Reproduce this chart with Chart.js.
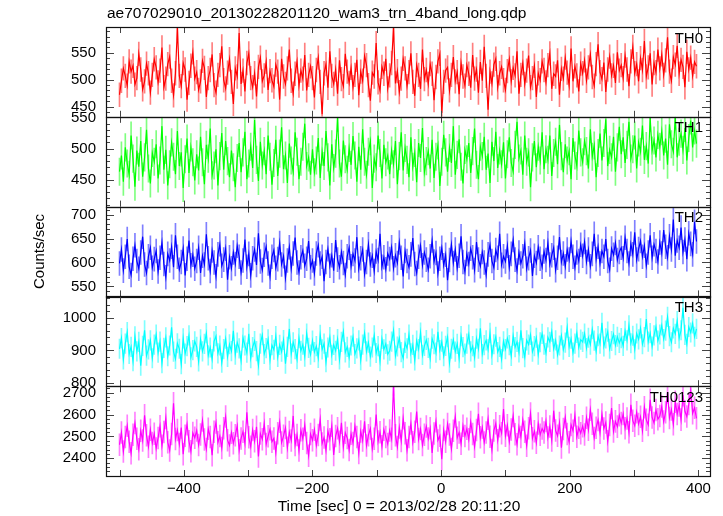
<!DOCTYPE html>
<html>
<head>
<meta charset="utf-8">
<script src="https://cdn.jsdelivr.net/npm/chart.js@4.4.1/dist/chart.umd.min.js"></script>
<style>
  body { margin: 0; background: #fff; }
</style>
</head>
<body>
<canvas id="myChart" width="723" height="516"></canvas>
<script>
// Time bins (sec from 2013/02/28 20:11:20)
const binStart = -500;
const binWidth = 3;

const th0 = [
  472, 498, 521, 507, 489, 534, 515, 526, 491, 503, 548, 519, 482, 497, 530, 512, 476, 509, 538, 523,
  495, 517, 560, 486, 502, 529, 543, 498, 471, 512, 596, 507, 488, 531, 519, 463, 494, 526, 551, 502,
  514, 481, 497, 535, 522, 468, 503, 518, 547, 490, 476, 509, 527, 562, 499, 484, 513, 538, 496, 455,
  521, 506, 587, 492, 517, 478, 531, 549, 503, 486, 512, 469, 524, 541, 497, 508, 533, 481, 516, 499,
  487, 528, 515, 463, 539, 506, 492, 521, 556, 498, 474, 511, 534, 489, 517, 502, 546, 480, 509, 525,
  503, 467, 518, 541, 496, 436, 512, 529, 485, 553, 507, 492, 519, 474, 536, 501, 488, 548, 515, 494,
  522, 486, 509, 537, 471, 515, 498, 544, 527, 490, 461, 513, 506, 568, 495, 480, 524, 511, 539, 484,
  508, 531, 597, 493, 516, 477, 502, 539, 521, 488, 514, 549, 496, 470, 527, 509, 483, 556, 501, 518,
  492, 529, 511, 462, 505, 534, 548, 438, 496, 517, 523, 480, 509, 542, 497, 514, 473, 531, 506, 489,
  527, 511, 485, 546, 502, 519, 476, 533, 498, 561, 507, 444, 515, 493, 528, 539, 486, 512, 524, 499,
  481, 516, 538, 497, 522, 508, 553, 474, 509, 531, 492, 517, 545, 486, 503, 526, 468, 512, 499, 534,
  518, 495, 527, 549, 483, 511, 506, 536, 472, 520, 502, 541, 513, 489, 558, 497, 525, 508, 478, 530,
  512, 536, 498, 523, 547, 505, 489, 529, 566, 514, 501, 532, 477, 519, 543, 508, 526, 494, 551, 517,
  527, 503, 545, 519, 488, 534, 561, 512, 529, 497, 540, 518, 572, 506, 523, 549, 491, 531, 514, 556,
  521, 547, 509, 536, 579, 515, 498, 542, 528, 563, 511, 537, 524, 486, 552, 519, 541, 507, 533, 525
];
const th1 = [
  463, 489, 447, 502, 476, 458, 521, 484, 439, 497, 471, 512, 455, 486, 530, 468, 444, 493, 479, 507,
  452, 481, 536, 466, 498, 441, 475, 510, 487, 459, 528, 472, 494, 437, 483, 516, 461, 502, 478, 449,
  491, 465, 519, 478, 443, 506, 484, 532, 457, 473, 499, 441, 488, 525, 466, 512, 480, 454, 497, 470,
  438, 485, 509, 462, 494, 527, 451, 476, 503, 469, 546, 482, 448, 511, 473, 496, 459, 521, 487, 442,
  477, 514, 456, 492, 534, 467, 489, 445, 508, 481, 463, 526, 495, 451, 479, 503, 540, 472, 486, 458,
  499, 462, 481, 517, 453, 495, 472, 528, 486, 441, 507, 469, 492, 549, 476, 455, 513, 483, 466, 501,
  474, 520, 489, 447, 503, 466, 531, 479, 458, 495, 512, 437, 484, 470, 521, 493, 452, 506, 478, 489,
  459, 497, 475, 512, 443, 488, 526, 465, 501, 482, 454, 518, 471, 493, 446, 509, 485, 533, 462, 480,
  496, 468, 514, 453, 487, 505, 440, 479, 522, 494, 463, 501, 477, 536, 458, 490, 515, 471, 444, 498,
  483, 509, 461, 496, 532, 474, 451, 503, 488, 519, 466, 492, 445, 511, 480, 527, 469, 497, 475, 510,
  452, 491, 518, 477, 463, 506, 543, 484, 497, 458, 521, 479, 494, 438, 486, 512, 470, 503, 481, 526,
  467, 499, 482, 521, 456, 493, 511, 475, 538, 488, 462, 507, 481, 496, 451, 517, 489, 472, 529, 494,
  478, 512, 496, 468, 531, 487, 505, 454, 493, 524, 481, 509, 547, 472, 498, 486, 519, 463, 502, 535,
  491, 518, 477, 506, 543, 484, 499, 521, 468, 510, 495, 537, 482, 504, 476, 549, 497, 513, 486, 522,
  503, 528, 489, 516, 474, 539, 507, 495, 552, 486, 511, 524, 498, 533, 481, 517, 545, 502, 529, 508
];
const th2 = [
  598, 627, 583, 612, 649, 591, 574, 608, 636, 603, 587, 621, 654, 596, 578, 613, 631, 589, 607, 624,
  581, 610, 642, 597, 569, 618, 604, 633, 590, 657, 612, 585, 601, 629, 573, 608, 646, 594, 616, 587,
  603, 631, 578, 614, 596, 659, 609, 582, 625, 600, 571, 617, 638, 593, 606, 629, 564, 611, 588, 621,
  597, 635, 612, 579, 604, 648, 591, 618, 573, 609, 627, 595, 661, 602, 584, 616, 633, 598, 570, 612,
  626, 589, 607, 641, 596, 613, 568, 604, 632, 587, 619, 652, 600, 579, 611, 625, 593, 608, 645, 590,
  604, 577, 619, 636, 598, 612, 561, 601, 628, 593, 615, 583, 647, 606, 590, 622, 599, 574, 613, 631,
  592, 618, 604, 653, 587, 609, 627, 575, 601, 638, 596, 614, 582, 623, 605, 660, 591, 611, 586, 619,
  607, 632, 588, 615, 599, 642, 610, 571, 624, 603, 590, 617, 651, 597, 578, 612, 635, 594, 621, 606,
  585, 613, 646, 602, 620, 577, 608, 631, 594, 616, 563, 605, 638, 599, 627, 588, 614, 655, 601, 580,
  618, 597, 629, 611, 584, 643, 606, 592, 622, 600, 574, 617, 637, 603, 589, 626, 610, 660, 595, 613,
  602, 635, 590, 618, 647, 606, 583, 621, 598, 613, 640, 587, 609, 625, 572, 614, 599, 632, 608, 591,
  623, 605, 641, 596, 615, 631, 584, 610, 653, 601, 619, 592, 627, 606, 645, 612, 589, 621, 603, 637,
  614, 643, 601, 627, 592, 618, 660, 607, 633, 598, 624, 612, 649, 603, 585, 629, 616, 641, 605, 622,
  631, 609, 652, 624, 598, 639, 617, 663, 606, 628, 645, 612, 635, 593, 621, 657, 610, 638, 624, 602,
  642, 619, 668, 633, 611, 655, 627, 690, 614, 646, 631, 673, 622, 648, 607, 661, 639, 617, 685, 644
];
const th3 = [
  905, 938, 872, 921, 956, 889, 911, 867, 943, 897, 926, 853, 914, 962, 884, 903, 931, 876, 918, 949,
  893, 927, 861, 908, 940, 882, 915, 971, 896, 874, 922, 905, 858, 937, 890, 913, 946, 879, 901, 928,
  911, 866, 934, 897, 920, 953, 885, 909, 873, 928, 944, 891, 915, 862, 904, 936, 880, 919, 898, 960,
  887, 924, 906, 868, 939, 915, 893, 951, 876, 910, 929, 898, 854, 921, 947, 889, 907, 934, 871, 916,
  902, 944, 880, 917, 896, 932, 859, 911, 966, 890, 925, 904, 873, 938, 899, 918, 881, 952, 908, 887,
  930, 895, 913, 877, 948, 903, 921, 864, 909, 941, 886, 917, 899, 935, 872, 926, 958, 894, 911, 878,
  915, 942, 889, 906, 931, 870, 918, 953, 897, 924, 881, 909, 946, 892, 913, 867, 935, 903, 920, 888,
  899, 927, 961, 884, 912, 938, 895, 876, 923, 906, 949, 891, 917, 869, 930, 904, 955, 886, 914, 932,
  908, 875, 936, 919, 893, 957, 901, 927, 882, 914, 941, 862, 905, 933, 896, 920, 876, 944, 910, 890,
  921, 949, 897, 913, 878, 936, 905, 968, 889, 916, 931, 903, 954, 886, 919, 942, 895, 911, 873, 928,
  904, 937, 916, 883, 945, 910, 926, 894, 962, 907, 879, 931, 918, 948, 896, 913, 939, 887, 925, 951,
  918, 892, 940, 926, 958, 905, 931, 887, 915, 946, 902, 924, 970, 911, 936, 893, 921, 954, 909, 933,
  926, 952, 907, 939, 918, 965, 930, 897, 944, 921, 985, 912, 937, 958, 905, 929, 950, 916, 942, 923,
  938, 914, 960, 931, 977, 922, 945, 903, 952, 934, 968, 919, 941, 996, 927, 953, 912, 946, 973, 930,
  949, 977, 935, 961, 1003, 944, 925, 968, 951, 990, 937, 962, 1031, 948, 920, 972, 955, 983, 942, 966
];
const th0123 = [
  2462, 2518, 2431, 2497, 2549, 2476, 2423, 2508, 2562, 2489, 2441, 2526, 2481, 2597, 2505, 2453, 2531, 2470, 2512, 2445,
  2493, 2547, 2458, 2520, 2585, 2474, 2436, 2511, 2652, 2488, 2529, 2465, 2541, 2419, 2503, 2556, 2478, 2432, 2516, 2494,
  2527, 2461, 2509, 2573, 2486, 2442, 2535, 2498, 2414, 2521, 2564, 2473, 2502, 2447, 2538, 2591, 2483, 2459, 2517, 2469,
  2505, 2549, 2437, 2491, 2522, 2468, 2611, 2496, 2453, 2530, 2478, 2544, 2408, 2513, 2487, 2559, 2465, 2501, 2533, 2476,
  2491, 2426, 2515, 2567, 2472, 2503, 2539, 2448, 2520, 2482, 2594, 2461, 2507, 2436, 2528, 2489, 2553, 2470, 2412, 2511,
  2483, 2531, 2459, 2507, 2578, 2468, 2495, 2436, 2524, 2487, 2549, 2415, 2502, 2537, 2476, 2563, 2451, 2517, 2493, 2438,
  2512, 2470, 2548, 2497, 2424, 2523, 2481, 2569, 2459, 2506, 2536, 2443, 2489, 2600, 2477, 2519, 2455, 2531, 2498, 2465,
  2527, 2489, 2738, 2506, 2452, 2541, 2479, 2583, 2515, 2437, 2498, 2559, 2473, 2522, 2614, 2488, 2534, 2461, 2508, 2546,
  2491, 2537, 2425, 2514, 2570, 2482, 2503, 2396, 2529, 2476, 2557, 2509, 2443, 2526, 2591, 2494, 2518, 2467, 2549, 2502,
  2535, 2487, 2566, 2511, 2453, 2529, 2604, 2496, 2541, 2472, 2518, 2581, 2499, 2438, 2527, 2560, 2483, 2547, 2515, 2625,
  2503, 2551, 2476, 2532, 2594, 2510, 2464, 2543, 2498, 2576, 2521, 2457, 2538, 2605, 2492, 2524, 2471, 2559, 2508, 2536,
  2518, 2571, 2495, 2546, 2482, 2618, 2527, 2503, 2562, 2449, 2534, 2588, 2511, 2474, 2553, 2526, 2597, 2499, 2540, 2515,
  2547, 2509, 2586, 2531, 2622, 2558, 2493, 2540, 2575, 2517, 2601, 2536, 2564, 2478, 2552, 2630, 2523, 2569, 2545, 2597,
  2561, 2603, 2538, 2582, 2519, 2645, 2572, 2549, 2611, 2557, 2590, 2526, 2634, 2576, 2553, 2668, 2587, 2562, 2621, 2579,
  2594, 2637, 2568, 2611, 2702, 2585, 2623, 2556, 2659, 2603, 2642, 2577, 2689, 2615, 2591, 2648, 2712, 2606, 2631, 2583
];

// 1-sigma errors per band
const th0Err = 22, th1Err = 22, th2Err = 25, th3Err = 30, th0123Err = 50;

// panels from top to bottom
const panels = [
  { name: "TH0",    values: th0,    err: th0Err,    min: 431,  max: 598,  minor: 10, major: 50,  color: "#ff0000", light: "rgba(255,0,0,0.5)" },
  { name: "TH1",    values: th1,    err: th1Err,    min: 407,  max: 551,  minor: 10, major: 50,  color: "#00ff00", light: "rgba(0,255,0,0.5)" },
  { name: "TH2",    values: th2,    err: th2Err,    min: 529,  max: 717,  minor: 10, major: 50,  color: "#0000ff", light: "rgba(0,0,255,0.5)" },
  { name: "TH3",    values: th3,    err: th3Err,    min: 790,  max: 1066, minor: 20, major: 100, color: "#00ffff", light: "rgba(0,255,255,0.5)" },
  { name: "TH0123", values: th0123, err: th0123Err, min: 2319, max: 2730, minor: 20, major: 100, color: "#ff00ff", light: "rgba(255,0,255,0.5)" }
];

const FONT = "Liberation Sans, Arial, Helvetica, sans-serif";

function isMultiple(v, step) {
  return Math.abs(v / step - Math.round(v / step)) < 1e-6;
}

const datasets = [];
const scales = {
  x: {
    type: "linear",
    min: -521,
    max: 418,
    offset: false,
    grid: { display: false, drawTicks: false },
    border: { display: false },
    ticks: {
      stepSize: 100,
      maxTicksLimit: 100,
      includeBounds: false,
      autoSkip: false,
      maxRotation: 0,
      padding: 4,
      color: "#000",
      font: { family: FONT, size: 15 },
      callback: v => isMultiple(v, 200) ? (v < 0 ? "\u2212" + Math.abs(v) : String(v)) : ""
    },
    afterFit: s => { s.height = 40; }
  }
};

panels.forEach((p, i) => {
  const id = "y" + i;
  const t = p.values.map((v, k) => binStart + k * binWidth);
  datasets.push({
    type: "line",
    label: p.name,
    data: p.values.map((v, k) => ({ x: t[k], y: v })),
    yAxisID: id,
    xAxisID: "x",
    borderColor: p.color,
    borderWidth: 1.2,
    pointRadius: 0,
    tension: 0,
    order: 0
  });
  datasets.push({
    type: "bar",
    label: p.name + " err",
    data: p.values.map((v, k) => ({ x: t[k], y: [v - p.err, v + p.err] })),
    yAxisID: id,
    xAxisID: "x",
    backgroundColor: p.light,
    barThickness: 1,
    grouped: false,
    order: 1
  });
});

// stacked y axes: Chart.js puts the first defined one at the bottom, so add them in reverse
for (let i = panels.length - 1; i >= 0; i--) {
  const p = panels[i];
  scales["y" + i] = {
    type: "linear",
    position: "left",
    stack: "panels",
    stackWeight: 1,
    min: p.min,
    max: p.max,
    grid: { display: false, drawTicks: false },
    border: { display: false },
    ticks: {
      stepSize: p.minor,
      maxTicksLimit: 100,
      includeBounds: false,
      autoSkip: false,
      padding: 10,
      color: "#000",
      font: { family: FONT, size: 15 },
      callback: v => isMultiple(v, p.major) ? String(v) : ""
    },
    afterFit: s => { s.width = 106; }
  };
}

// clip each series to its own panel, then draw frames, ticks and texts
const qdpPlugin = {
  id: "qdpFrames",
  beforeDatasetDraw(chart, args) {
    const ys = chart.scales[args.meta.yAxisID];
    const a = chart.chartArea;
    const ctx = chart.ctx;
    ctx.save();
    ctx.beginPath();
    ctx.rect(a.left, ys.top, a.right - a.left, ys.bottom - ys.top);
    ctx.clip();
  },
  afterDatasetDraw(chart) {
    chart.ctx.restore();
  },
  afterDraw(chart) {
    const ctx = chart.ctx;
    const a = chart.chartArea;
    const xs = chart.scales.x;
    ctx.save();
    panels.forEach((p, i) => {
      const ys = chart.scales["y" + i];
      // ticks
      ctx.strokeStyle = "#444";
      ctx.lineWidth = 1;
      ctx.beginPath();
      ys.ticks.forEach(t => {
        if (!isMultiple(t.value, p.minor)) return;
        const py = Math.round(ys.getPixelForValue(t.value)) + 0.5;
        const len = isMultiple(t.value, p.major) ? 8 : 4;
        ctx.moveTo(a.left, py); ctx.lineTo(a.left + len, py);
        ctx.moveTo(a.right, py); ctx.lineTo(a.right - len, py);
      });
      xs.ticks.forEach(t => {
        if (!isMultiple(t.value, 100)) return;
        const px = Math.round(xs.getPixelForValue(t.value)) + 0.5;
        ctx.moveTo(px, ys.top); ctx.lineTo(px, ys.top + 6);
        ctx.moveTo(px, ys.bottom); ctx.lineTo(px, ys.bottom - 6);
      });
      ctx.stroke();
      // frame
      ctx.strokeStyle = "#111";
      ctx.lineWidth = 1.2;
      ctx.strokeRect(Math.round(a.left) + 0.5, Math.round(ys.top) + 0.5,
        Math.round(a.right - a.left), Math.round(ys.bottom - ys.top));
      // band name
      ctx.fillStyle = "#000";
      ctx.font = "15px " + FONT;
      ctx.textAlign = "right";
      ctx.textBaseline = "top";
      ctx.fillText(p.name, a.right - 7, ys.top + 4);
    });
    // plot title
    ctx.fillStyle = "#000";
    ctx.font = "15.5px " + FONT;
    ctx.textAlign = "left";
    ctx.textBaseline = "middle";
    ctx.fillText("ae707029010_20130228201120_wam3_trn_4band_long.qdp", a.left + 1, 14);
    // x axis title
    ctx.textAlign = "center";
    ctx.fillText("Time [sec] 0 = 2013/02/28 20:11:20", 399, 507);
    // y axis title
    ctx.font = "15px " + FONT;
    ctx.translate(40, (a.top + a.bottom) / 2);
    ctx.rotate(-Math.PI / 2);
    ctx.fillText("Counts/sec", 0, 0);
    ctx.restore();
  }
};

const ctx = document.getElementById("myChart").getContext("2d");
new Chart(ctx, {
  type: "line",
  data: { datasets: datasets },
  options: {
    responsive: false,
    animation: false,
    layout: { padding: { left: 0, right: 13, top: 27, bottom: 0 } },
    plugins: {
      legend: { display: false },
      tooltip: { enabled: false }
    },
    scales: scales
  },
  plugins: [qdpPlugin]
});
</script>
</body>
</html>
